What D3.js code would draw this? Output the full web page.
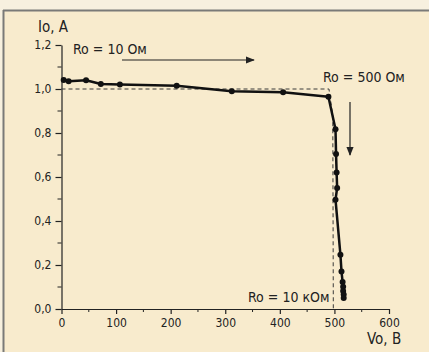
<!DOCTYPE html>
<html>
<head>
<meta charset="utf-8">
<script src="https://cdn.jsdelivr.net/npm/d3@7"></script>
<style>
body { margin: 0; background: #f7f0df; }
svg { display: block; }
</style>
</head>
<body>
<script>
const width = 429;
const height = 352;

// measured points, Vo (В) and Io (A)
const voltage = [4, 13, 45, 72, 107, 211, 312, 406, 489, 502, 503, 504, 505, 502, 511, 513, 515, 516, 516, 517, 517];
const current = [1.041, 1.035, 1.04, 1.023, 1.021, 1.015, 0.99, 0.985, 0.965, 0.817, 0.705, 0.62, 0.55, 0.497, 0.247, 0.17, 0.123, 0.101, 0.082, 0.066, 0.05];

// ideal source characteristic (dashed)
const idealV = [0, 490, 497, 498];
const idealI = [1.0, 1.0, 0.88, 0];

const xTicks = [0, 100, 200, 300, 400, 500, 600];
const yTicks = [0, 0.2, 0.4, 0.6, 0.8, 1.0, 1.2];

const font = "'Liberation Sans Narrow', 'DejaVu Sans Condensed', sans-serif";
const ink = "#222";

let svg = d3.select("body")
    .append("svg")
    .attr("width", width)
    .attr("height", height);

// paper + frame
svg.append("rect").attr("x", 0).attr("y", 0).attr("width", width).attr("height", height).attr("fill", "#f7f0df");
svg.append("rect").attr("x", 4).attr("y", 11).attr("width", width - 4).attr("height", height - 11).attr("fill", "#f8ebcd");
svg.append("line").attr("x1", 3).attr("x2", width).attr("y1", 10.5).attr("y2", 10.5)
    .attr("stroke", "#7a7a78").attr("stroke-width", 2);
svg.append("line").attr("x1", 3.5).attr("x2", 3.5).attr("y1", 10).attr("y2", height)
    .attr("stroke", "#7a7a78").attr("stroke-width", 2);

let x = d3.scaleLinear().domain([0, 600]).range([61.5, 389]);
let y = d3.scaleLinear().domain([0, 1.2]).range([309, 45]);

const comma = (d) => d3.format(".1f")(d).replace(".", ",");

// minor ticks
let minorX = d3.range(50, 600, 100);
let minorY = d3.range(0.1, 1.2, 0.2);

svg.append("g").selectAll("line").data(minorX).enter().append("line")
    .attr("x1", (d) => x(d)).attr("x2", (d) => x(d))
    .attr("y1", y(0)).attr("y2", y(0) + 3)
    .attr("stroke", ink).attr("stroke-width", 1);
svg.append("g").selectAll("line").data(minorY).enter().append("line")
    .attr("x1", x(0)).attr("x2", x(0) - 4)
    .attr("y1", (d) => y(d)).attr("y2", (d) => y(d))
    .attr("stroke", ink).attr("stroke-width", 1);

let xAxis = svg.append("g")
    .attr("transform", "translate(0," + y(0) + ")")
    .call(d3.axisBottom(x).tickValues(xTicks).tickSize(5).tickSizeOuter(0).tickPadding(4));
let yAxis = svg.append("g")
    .attr("transform", "translate(" + x(0) + ",0)")
    .call(d3.axisLeft(y).tickValues(yTicks).tickSize(6).tickSizeOuter(0).tickPadding(4).tickFormat(comma));

[xAxis, yAxis].forEach((g) => {
    g.selectAll("path, line").attr("stroke", ink).attr("stroke-width", 1.2);
    g.selectAll("text").attr("fill", ink).attr("font-family", font).attr("font-size", 12);
});

// dashed ideal line
let pts = d3.line().x((d) => x(d[0])).y((d) => y(d[1]));
svg.append("path")
    .attr("d", pts(d3.zip(idealV, idealI)))
    .attr("fill", "none")
    .attr("stroke", "#3a3a3a")
    .attr("stroke-width", 1)
    .attr("stroke-dasharray", "4,3");

// measured curve
let data = d3.zip(voltage, current);
svg.append("path")
    .attr("d", pts(data))
    .attr("fill", "none")
    .attr("stroke", "#111")
    .attr("stroke-width", 2.5)
    .attr("stroke-linejoin", "round");

svg.append("g").selectAll("circle").data(data).enter().append("circle")
    .attr("cx", (d) => x(d[0]))
    .attr("cy", (d) => y(d[1]))
    .attr("r", 3)
    .attr("fill", "#111");

// arrows
svg.append("defs").append("marker")
    .attr("id", "head")
    .attr("viewBox", "0 0 10 10")
    .attr("refX", 9).attr("refY", 5)
    .attr("markerWidth", 9).attr("markerHeight", 9)
    .attr("markerUnits", "userSpaceOnUse")
    .attr("orient", "auto")
    .append("path").attr("d", "M0,1 L10,5 L0,9 Z").attr("fill", ink);

svg.append("line").attr("x1", 122).attr("y1", 60).attr("x2", 254).attr("y2", 60)
    .attr("stroke", ink).attr("stroke-width", 1.2).attr("marker-end", "url(#head)");
svg.append("line").attr("x1", 350).attr("y1", 102).attr("x2", 350).attr("y2", 155)
    .attr("stroke", ink).attr("stroke-width", 1.2).attr("marker-end", "url(#head)");

// labels
let labels = [
    {t: "Io, A", x: 38, y: 32, s: 15},
    {t: "Vo, B", x: 367, y: 344, s: 15},
    {t: "Ro = 10 Ом", x: 73, y: 54, s: 14},
    {t: "Ro = 500 Ом", x: 323, y: 82, s: 14},
    {t: "Ro = 10 кОм", x: 248, y: 302, s: 14}
];
svg.append("g").selectAll("text").data(labels).enter().append("text")
    .attr("x", (d) => d.x).attr("y", (d) => d.y)
    .attr("font-family", font).attr("font-size", (d) => d.s)
    .attr("fill", ink)
    .text((d) => d.t);
</script>
</body>
</html>
